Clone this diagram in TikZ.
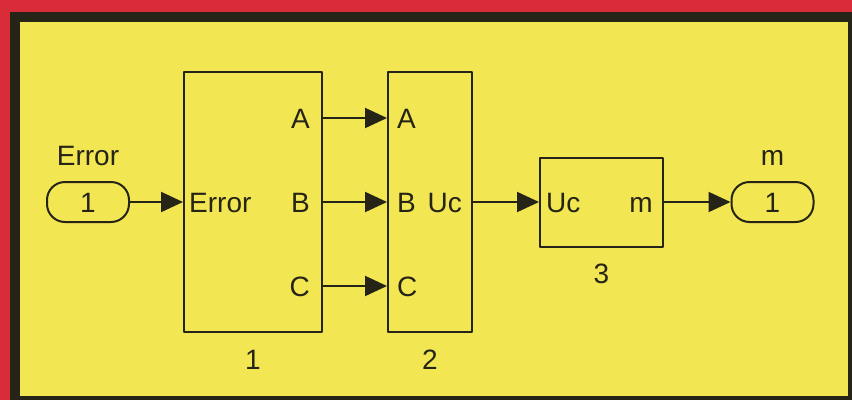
\documentclass[tikz,border=0pt]{standalone}
\usepackage{fontspec}
\setmainfont{Liberation Sans}
\usetikzlibrary{positioning,arrows.meta}
\definecolor{frame}{RGB}{218,44,56}
\definecolor{paper}{RGB}{242,230,82}
\definecolor{ink}{RGB}{38,36,22}
\begin{document}
\begin{tikzpicture}[x=1pt,y=-1pt,>={Triangle[length=22pt,width=20pt]},
	font=\fontsize{28}{30}\selectfont, line join=round,
	blk/.style={draw=ink,line width=2pt,inner sep=0pt},
	port/.style={draw=ink,line width=2pt,rounded corners=18pt,minimum width=82pt,minimum height=40pt},
	txt/.style={text=ink,inner sep=0pt,text height=20pt,text depth=0pt},
	sig/.style={->,draw=ink,line width=2pt}]
	% fond et cadre
	\fill[frame] (0,0) rectangle (852,400);
	\fill[ink] (10,12) rectangle (852,400);
	\fill[paper] (20,22) rectangle (848,396);
	% blocs
	\node[blk,minimum width=138pt,minimum height=260pt] (sub1) at (253,202) {};
	\node[blk,minimum width=84pt,minimum height=260pt] (sub2) at (430,202) {};
	\node[blk,minimum width=123pt,minimum height=89pt] (sub3) at (601.5,202) {};
	\node[port,txt] (inport) at (88,202) {1};
	\node[port,txt] (outport) at (772.5,202) {1};
	% noms
	\node[txt,above=15pt of inport] (inname) {Error};
	\node[txt,above=15pt of outport] (outname) {m};
	\node[txt,below=16pt of sub1] (name1) {1};
	\node[txt,below=16pt of sub2] (name2) {2};
	\node[txt,below=16pt of sub3] (name3) {3};
	% ports
	\node[txt,anchor=west] (err1) at ([xshift=6pt]sub1.west) {Error};
	\node[txt,anchor=east] (uc2) at ([xshift=-11pt]sub2.east) {Uc};
	\node[txt,anchor=west] (uc3) at ([xshift=7pt]sub3.west) {Uc};
	\node[txt,anchor=east] (m3) at ([xshift=-11pt]sub3.east) {m};
	\foreach \p/\y in {A/118,B/202,C/286} {
		\node[txt,anchor=east] (o\p) at (310,\y) {\p};
		\node[txt,anchor=west] (i\p) at (397,\y) {\p};
		\draw[sig] (o\p -| sub1.east) -- (i\p -| sub2.west);
	}
	% liaisons
	\draw[sig] (inport.east) -- (sub1.west);
	\draw[sig] (sub2.east) -- (sub3.west);
	\draw[sig] (sub3.east) -- (outport.west);
\end{tikzpicture}
\end{document}
